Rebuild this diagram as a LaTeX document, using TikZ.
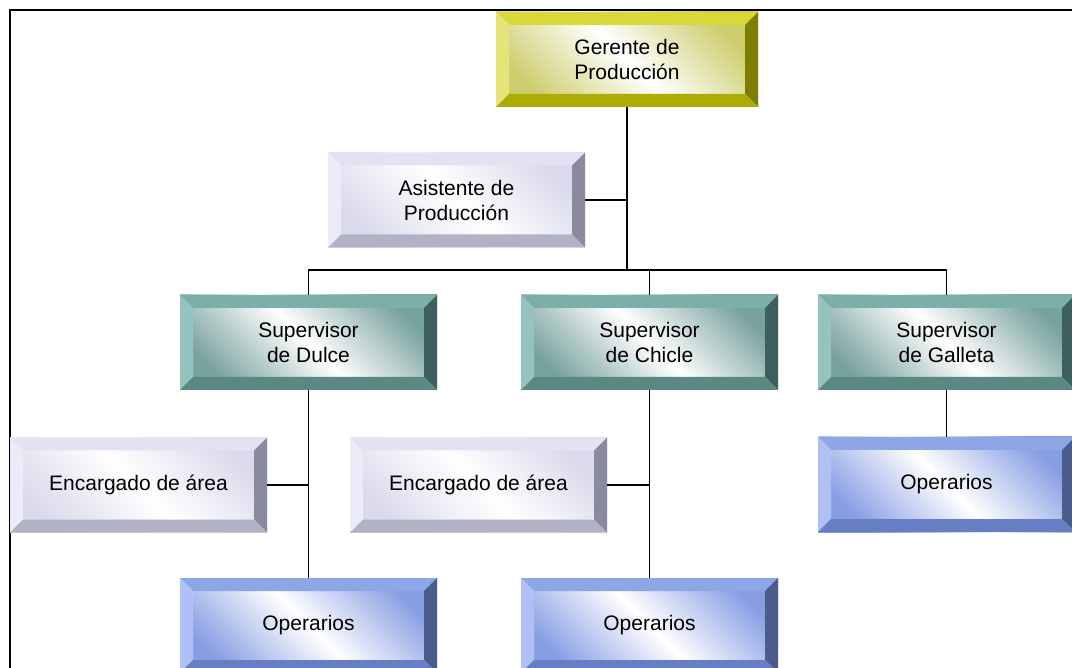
\documentclass[tikz,border=0pt]{standalone}
\usepackage{fontspec}
\setmainfont{Liberation Sans}
\definecolor{yT}{RGB}{216,216,58}
\definecolor{yL}{RGB}{228,228,120}
\definecolor{yR}{RGB}{125,125,0}
\definecolor{yB}{RGB}{172,172,5}
\definecolor{yF}{RGB}{205,205,110}
\definecolor{lT}{RGB}{226,226,242}
\definecolor{lL}{RGB}{236,236,248}
\definecolor{lR}{RGB}{138,138,158}
\definecolor{lB}{RGB}{178,178,198}
\definecolor{lF}{RGB}{218,218,236}
\definecolor{tT}{RGB}{125,175,170}
\definecolor{tL}{RGB}{150,195,190}
\definecolor{tR}{RGB}{62,96,92}
\definecolor{tB}{RGB}{92,136,130}
\definecolor{tF}{RGB}{120,162,158}
\definecolor{bT}{RGB}{142,166,230}
\definecolor{bL}{RGB}{176,192,245}
\definecolor{bR}{RGB}{75,92,140}
\definecolor{bB}{RGB}{102,126,195}
\definecolor{bF}{RGB}{135,158,226}
\newcommand\bevelfaces[4]{%
  \fill[#1] (path picture bounding box.north west) -- (path picture bounding box.north east)
    -- ([shift={(-13pt,-13pt)}]path picture bounding box.north east)
    -- ([shift={(13pt,-13pt)}]path picture bounding box.north west) -- cycle;
  \fill[#2] (path picture bounding box.north west) -- (path picture bounding box.south west)
    -- ([shift={(13pt,13pt)}]path picture bounding box.south west)
    -- ([shift={(13pt,-13pt)}]path picture bounding box.north west) -- cycle;
  \fill[#3] (path picture bounding box.north east) -- (path picture bounding box.south east)
    -- ([shift={(-13pt,13pt)}]path picture bounding box.south east)
    -- ([shift={(-13pt,-13pt)}]path picture bounding box.north east) -- cycle;
  \fill[#4] (path picture bounding box.south west) -- (path picture bounding box.south east)
    -- ([shift={(-13pt,13pt)}]path picture bounding box.south east)
    -- ([shift={(13pt,13pt)}]path picture bounding box.south west) -- cycle;
}
\tikzset{
  bbox/.style={rectangle, minimum width=257pt, minimum height=95pt, inner sep=0pt,
    align=center, font=\fontsize{21}{25}\selectfont, text=black},
  yelbox/.style={bbox, top color=yF, bottom color=yF, middle color=white, shading angle=-45,
    path picture={\bevelfaces{yT}{yL}{yR}{yB}}},
  lavbox/.style={bbox, top color=lF, bottom color=lF, middle color=white, shading angle=-45,
    path picture={\bevelfaces{lT}{lL}{lR}{lB}}},
  tealbox/.style={bbox, top color=tF, bottom color=tF, middle color=white, shading angle=-45,
    path picture={\bevelfaces{tT}{tL}{tR}{tB}}},
  bluebox/.style={bbox, top color=bF, bottom color=bF, middle color=white, shading angle=-45,
    path picture={\bevelfaces{bT}{bL}{bR}{bB}}},
  conn/.style={draw=black, line width=1.9pt},
  frameline/.style={draw=black, line width=2.2pt}
}
\begin{document}
\begin{tikzpicture}[x=1pt,y=-1pt]
\useasboundingbox (0,0) rectangle (1072,668);
\clip (0,0) rectangle (1072,668);
\fill[white] (0,0) rectangle (1072,668);
\draw[frameline] (10,668) -- (10,10) -- (1072,10);
% nodes
\node[yelbox, minimum width=262pt] (G) at (627,59.5) {Gerente de\\Producción};
\node[lavbox] (A) at (456.5,200) {Asistente de\\Producción};
\node[tealbox] (SD) at (308.5,342.5) {Supervisor\\de Dulce};
\node[tealbox] (SC) at (649.5,342.5) {Supervisor\\de Chicle};
\node[tealbox] (SG) at (946.5,342.5) {Supervisor\\de Galleta};
\node[lavbox] (E1) at (138.5,485) {Encargado de área};
\node[lavbox] (E2) at (478.5,485) {Encargado de área};
\node[bluebox] (O3) at (946.5,484.5) {Operarios};
\node[bluebox] (O1) at (308.5,625.5) {Operarios};
\node[bluebox] (O2) at (649.5,625.5) {Operarios};
\coordinate (bus) at (627,270);
% connectors
\draw[conn] (G.south) -- (bus);
\draw[conn] (A.east) -- (A.east -| G.south);
\draw[conn] (SD.north) -- (SD.north |- bus) -- (SG.north |- bus) -- (SG.north);
\draw[conn] (SC.north) -- (SC.north |- bus);
\draw[conn] (SD.south) -- (O1.north);
\draw[conn] (E1.east) -- (E1.east -| SD.south);
\draw[conn] (SC.south) -- (O2.north);
\draw[conn] (E2.east) -- (E2.east -| SC.south);
\draw[conn] (SG.south) -- (O3.north);
\end{tikzpicture}
\end{document}
